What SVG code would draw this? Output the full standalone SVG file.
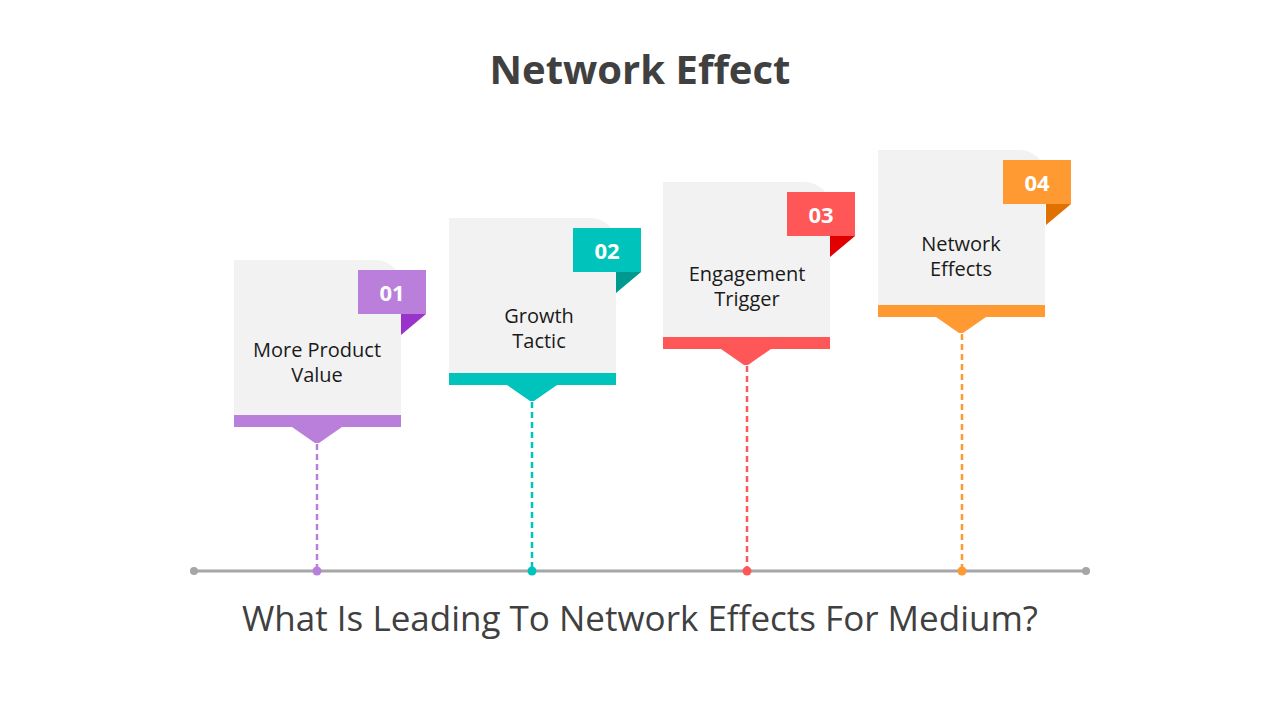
<svg xmlns="http://www.w3.org/2000/svg" width="1280" height="720" viewBox="0 0 1280 720">
<style>
.card{fill:#F2F2F2}
.lbl{font-family:"Segoe UI","Open Sans","Noto Sans",sans-serif;font-size:20px;fill:#1a1a1a;text-anchor:middle}
.num{font-family:"Open Sans","Noto Sans",sans-serif;font-size:22px;font-weight:bold;fill:#fff;text-anchor:middle}
.dash{stroke-width:2.5;stroke-dasharray:6,4;fill:none}
</style>
<rect width="1280" height="720" fill="#fff"/>
<text x="640" y="84" text-anchor="middle" font-family="Open Sans,Noto Sans,sans-serif" font-weight="bold" font-size="40" fill="#404040">Network Effect</text>
<g id="connectors">
<line x1="194" y1="571" x2="1086" y2="571" stroke="#A6A6A6" stroke-width="3"/>
<circle cx="194" cy="571" r="4" fill="#A6A6A6"/><circle cx="1086" cy="571" r="4" fill="#A6A6A6"/>
<line class="dash" x1="317" y1="444" x2="317" y2="571" stroke="#B97FDB"/><circle cx="317" cy="571" r="4.5" fill="#B97FDB"/>
<line class="dash" x1="532" y1="402" x2="532" y2="571" stroke="#00C4BC"/><circle cx="532" cy="571" r="4.5" fill="#00C4BC"/>
<line class="dash" x1="747" y1="366" x2="747" y2="571" stroke="#FF5757"/><circle cx="747" cy="571" r="4.5" fill="#FF5757"/>
<line class="dash" x1="962" y1="334" x2="962" y2="571" stroke="#FF9A33"/><circle cx="962" cy="571" r="4.5" fill="#FF9A33"/>
</g>
<g id="node1" transform="translate(234,260)">
<path class="card" d="M0 0H142A25 25 0 0 1 167 25V167H0Z"/>
<rect y="155" width="167" height="12" fill="#B97FDB"/>
<path d="M58 167H108L85 183H81Z" fill="#B97FDB"/>
<rect x="124" y="10" width="68" height="44" fill="#B97FDB"/>
<path d="M167 54H192L167 75Z" fill="#9933CC"/>
<text class="num" x="158" y="41">01</text>
<text class="lbl" x="83" y="97">More Product</text><text class="lbl" x="83" y="122">Value</text>
</g>
<g id="node2" transform="translate(449,218)">
<path class="card" d="M0 0H142A25 25 0 0 1 167 25V167H0Z"/>
<rect y="155" width="167" height="12" fill="#00C4BC"/>
<path d="M58 167H108L85 183H81Z" fill="#00C4BC"/>
<rect x="124" y="10" width="68" height="44" fill="#00C4BC"/>
<path d="M167 54H192L167 75Z" fill="#009990"/>
<text class="num" x="158" y="41">02</text>
<text class="lbl" x="90" y="105">Growth</text><text class="lbl" x="90" y="130">Tactic</text>
</g>
<g id="node3" transform="translate(663,182)">
<path class="card" d="M0 0H142A25 25 0 0 1 167 25V167H0Z"/>
<rect y="155" width="167" height="12" fill="#FF5757"/>
<path d="M58 167H108L85 183H81Z" fill="#FF5757"/>
<rect x="124" y="10" width="68" height="44" fill="#FF5757"/>
<path d="M167 54H192L167 75Z" fill="#E00000"/>
<text class="num" x="158" y="41">03</text>
<text class="lbl" x="84" y="99">Engagement</text><text class="lbl" x="84" y="124">Trigger</text>
</g>
<g id="node4" transform="translate(878,150)">
<path class="card" d="M0 0H142A25 25 0 0 1 167 25V167H0Z"/>
<rect y="155" width="167" height="12" fill="#FF9A33"/>
<path d="M58 167H108L85 183H81Z" fill="#FF9A33"/>
<rect x="125" y="10" width="68" height="44" fill="#FF9A33"/>
<path d="M168 54H193L168 75Z" fill="#E07000"/>
<text class="num" x="159" y="41">04</text>
<text class="lbl" x="83" y="101">Network</text><text class="lbl" x="83" y="126">Effects</text>
</g>
<text x="640" y="631" text-anchor="middle" font-family="Segoe UI,Open Sans,Noto Sans,sans-serif" font-size="35" fill="#404040">What Is Leading To Network Effects For Medium?</text>
</svg>
